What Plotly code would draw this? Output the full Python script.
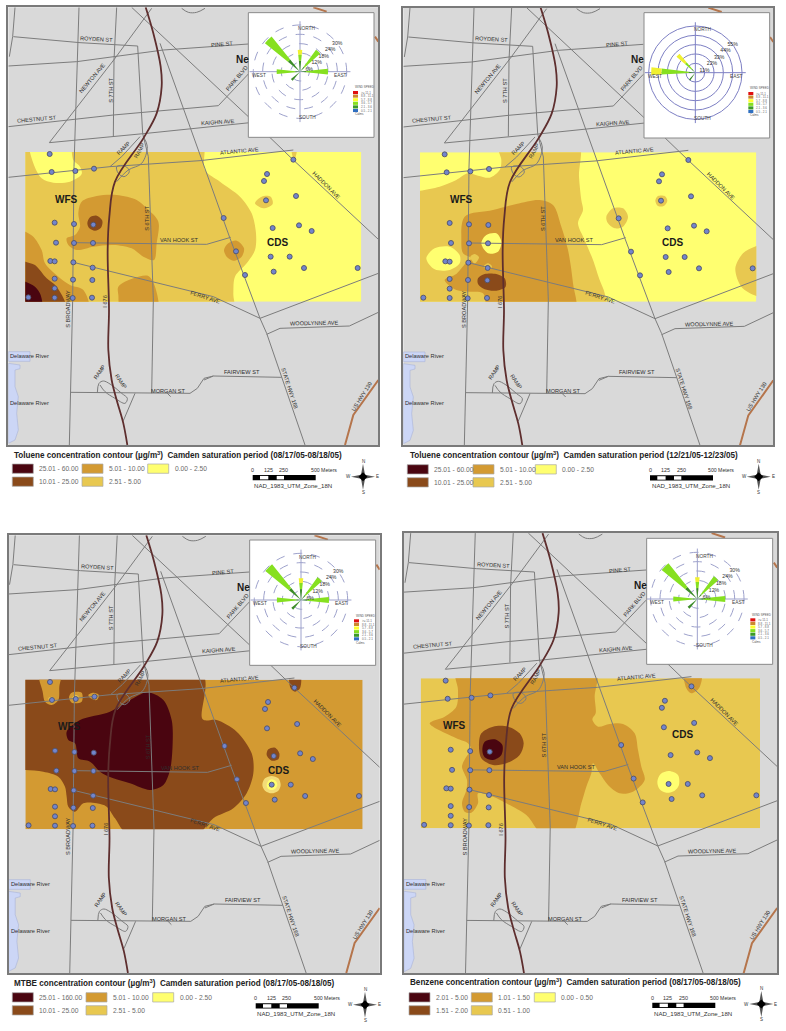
import plotly.graph_objects as go

W, H = 786, 1031
FONT = "Liberation Sans, Arial, sans-serif"
BAND = ["#4a0510", "#8a4a1a", "#d39a32", "#e8c850", "#ffff70"]
PALE = "#f3dc78"

# ---------- shared street map, in map units ----------
ROADS = [
    [(45,22),(38,110),(28,170)],
    [(40,110),(240,128),(413,138),(420,260),(428,400),(445,470),(460,900),(455,1180)],
    [(237,22),(232,180),(222,500),(218,900),(208,1335)],
    [(350,22),(342,180),(340,408)],
    [(25,198),(230,185),(490,150),(745,132)],
    [(455,25),(345,175),(148,428),(440,400),(750,368)],
    [(25,380),(340,345),(655,317),(745,222)],
    [(395,22),(745,350),(880,480),(1135,718)],
    [(480,130),(610,490),(690,715),(780,955),(800,1000),(915,1335)],
    [(25,532),(330,500),(600,482),(880,450)],
    [(222,728),(620,733),(692,712)],
    [(220,787),(640,890),(780,955),(1135,820)],
    [(800,1003),(840,985),(1048,978),(1135,937)],
    [(212,1177),(570,1180),(592,1165),(612,1135),(640,1128),(845,1132)],
    [(612,1140),(640,1128)],
    [(500,1178),(512,1190)],
    [(405,1180),(370,1262)],
    [(330,500),(365,470),(420,410)],
]
LOOPS = [
    [(292,1178),(297,1150),(310,1143),(330,1152),(365,1180),(382,1195),(375,1210),(345,1195),(315,1175),(300,1155)],
    [(350,500),(375,498),(388,515),(372,530),(355,520),(350,500)],
    [(350,545),(385,510),(425,490),(442,440),(430,410)],
    [(545,25),(565,37),(590,37),(615,25)],
]
HIGHWAY = [(437,22),(460,100),(482,200),(485,260),(470,340),(430,415),(345,545),(328,650),
           (323,750),(327,930),(325,1050),(335,1140),(350,1200),(370,1270),(382,1335)]
ARTERIALS = [[(1135,1140),(1060,1245),(1035,1335)], [(940,22),(980,35)], [(1125,110),(1135,125)]]
RIVER = [[(25,1055),(90,1055),(90,1084),(25,1084)],
         [(25,1090),(60,1095),(60,1106),(45,1110),(45,1160),(55,1190),(50,1240),(55,1290),(45,1320),(25,1330)]]
STATIONS = [(149,462),(155,516),(226,513),(282,506),(880,479),(801,522),(792,543),(888,588),(798,601),
            (164,668),(222,672),(280,674),(671,654),(818,684),(897,676),(935,693),(168,728),(222,729),
            (279,729),(708,754),(151,783),(164,784),(220,787),(812,770),(869,770),(278,803),(735,825),
            (821,815),(912,804),(1073,804),(164,836),(219,839),(277,840),(164,865),(85,892),(164,893),
            (218,894),(276,893)]
ROAD_LABELS = [
    ("ROYDEN ST",290,117,3),("PINE ST",667,132,-5),("NEWTON AVE",277,235,-50),("S 7TH ST",332,270,-90),
    ("PARK BLVD",710,233,-50),("CHESTNUT ST",112,357,-5),("KAIGHN AVE",655,367,-4),("RAMP",370,443,-45),
    ("RAMP",417,452,-62),("ATLANTIC AVE",717,452,-5),("HADDON AVE",978,556,45),("S 6TH ST",442,655,-90),
    ("VAN HOOK ST",538,720,0),("FERRY AVE",615,890,18),("S BROADWAY",205,925,-90),("I 676",315,905,-90),
    ("WOODLYNNE AVE",943,970,-1),("FAIRVIEW ST",726,1116,0),("MORGAN ST",505,1172,0),("RAMP",298,1115,-55),
    ("RAMP",362,1143,55),("STATE HWY 168",868,1165,72),("US HWY 130",1083,1190,-58),
]
WATER_LABELS = [("Delaware River",25,1068),("Delaware River",25,1209)]
SITES_STD = [("WFS",198,597),("CDS",833,726)]
SITES_MTBE = [("WFS",206,594),("CDS",833,726)]
SITES_BENZ = [("WFS",175,597),("CDS",853,622)]
PLACE_LABEL = ("Ne",727,177)

# ---------- contour polygons per panel: (band index, outline) ----------
CONTOUR_TOL_A = [
    (3,[(605,420),(615,510),(660,545),(720,590),(755,640),(768,700),(765,750),(740,790),(705,830),(700,880),(700,980),(20,980),(20,400),(300,400)]),
    (4,[(90,420),(100,490),(125,535),(160,548),(210,545),(245,522),(240,500),(220,480),(205,420)]),
    (3,[(875,440),(878,470),(882,478),(887,470),(890,440)]),
    (3,[(765,610),(785,590),(812,590),(818,612),(790,625)]),
    (2,[(235,640),(245,605),(290,588),(350,585),(410,600),(440,625),(475,665),(470,730),(462,780),(430,770),(395,745),(340,735),(280,740),(230,750),(205,735),(200,715),(225,705),(240,680)]),
    (2,[(672,750),(685,730),(710,722),(732,745),(725,770),(700,782),(680,770)]),
    (2,[(40,680),(76,695),(100,710),(125,750),(135,790),(175,830),(210,855),(250,870),(265,930),(40,940)]),
    (2,[(355,860),(400,835),(445,828),(465,860),(472,940),(365,940),(355,885)]),
    (1,[(262,670),(270,652),(290,647),(307,662),(303,683),(285,692),(268,685)]),
    (1,[(40,770),(76,785),(105,795),(140,835),(170,860),(198,930),(40,940)]),
    (0,[(40,835),(76,845),(105,860),(122,885),(124,940),(40,940)]),
]
CONTOUR_TOL_B = [
    (3,[(312,420),(325,480),(320,510),(290,533),(255,527),(225,520),(190,540),(140,560),(81,572),(40,575),(30,980),(640,980),(635,880),(620,840),(600,780),(575,720),(555,670),(570,630),(565,600),(558,530),(555,420)]),
    (4,[(100,775),(125,745),(170,740),(200,765),(200,790),(170,810),(125,808)]),
    (3,[(640,650),(660,625),(690,625),(705,650),(690,680),(665,685),(645,670)]),
    (3,[(787,602),(795,588),(815,588),(823,602),(812,618),(795,618)]),
    (3,[(1130,730),(1085,740),(1050,760),(1027,805),(1045,860),(1090,888),(1130,895)]),
    (2,[(205,720),(215,650),(300,630),(370,612),(440,600),(480,615),(505,680),(525,750),(540,850),(545,940),(290,940),(270,880),(230,875),(190,870),(155,840),(190,822),(218,790),(235,775),(210,760)]),
    (4,[(265,730),(280,705),(310,700),(325,725),(315,755),(285,760)]),
    (3,[(232,770),(245,762),(258,772),(245,790)]),
    (3,[(272,800),(285,790),(297,800),(285,812)]),
    (1,[(255,835),(275,822),(310,822),(335,835),(338,860),(310,872),(275,868),(255,852)]),
]
CONTOUR_MTBE = [
    (1,[(607,490),(608,628),(650,630),(710,665),(755,730),(760,790),(740,850),(700,895),(640,925),(590,975),(385,975),(345,925),(320,890),(290,880),(250,880),(225,905),(205,890),(200,860),(195,830),(175,800),(130,785),(76,780),(30,780),(30,480)]),
    (2,[(118,490),(128,545),(135,575),(155,585),(175,570),(178,530),(182,490)]),
    (2,[(207,562),(215,548),(245,548),(245,575),(215,578)]),
    (2,[(265,555),(280,548),(297,555),(290,570),(272,565)]),
    (3,[(217,563),(228,555),(238,563),(228,572)]),
    (3,[(275,556),(283,552),(290,557),(283,563)]),
    (3,[(145,565),(156,560),(165,570),(156,580)]),
    (1,[(870,490),(872,535),(885,545),(900,535),(900,490)]),
    (1,[(800,735),(805,718),(825,713),(838,730),(835,748),(815,752)]),
    (0,[(200,665),(240,630),(330,605),(400,565),(442,547),(490,570),(515,630),(518,700),(510,780),(490,825),(450,840),(390,820),(340,805),(300,785),(270,755),(235,745),(230,720),(225,700),(205,690)]),
]
HALO_MTBE = [
    ("pale",[(787,825),(795,805),(815,798),(835,805),(842,825),(835,842),(815,850),(795,842)]),
    (4,[(800,825),(806,812),(816,808),(828,814),(832,825),(826,836),(815,840),(804,836)]),
]
CONTOUR_BENZ = [
    (2,[(190,480),(195,540),(190,590),(155,620),(110,640),(190,685),(225,700),(235,720),(220,740),(207,770),(222,810),(220,840),(207,880),(215,905),(235,908),(255,880),(255,850),(300,860),(340,880),(400,915),(450,975),(535,975),(565,880),(580,830),(595,790),(600,760),(620,790),(645,825),(680,850),(720,845),(755,810),(745,770),(735,720),(725,670),(690,642),(650,642),(615,650),(598,628),(608,610),(605,560),(608,480)]),
    (2,[(875,490),(880,535),(895,550),(918,535),(925,490)]),
    (1,[(258,700),(265,670),(300,650),(345,650),(380,670),(392,700),(380,735),(340,760),(300,765),(265,745)]),
    (0,[(268,720),(275,695),(305,688),(328,705),(325,735),(300,750),(275,742)]),
    (4,[(793,815),(803,792),(828,783),(855,795),(858,825),(845,842),(820,848),(800,838)]),
]

# ---------- wind roses ----------
ROSE_DIRS = [0, 42, 90, 225, 270, 315]
ROSE_DARK_A = [7, 4, 4, 7.5, 3, 10]
ROSE_GREEN_A = [4, 13.5, 14, 0, 12, 19]
ROSE_YELLOW_A = [3, 0, 0, 0, 0, 0]
ROSE_DARK_C = [7, 4, 4, 8, 3, 10]
ROSE_GREEN_C = [4, 14, 14, 0, 12.5, 19.5]
ROSE_DIRS_B = [218, 272, 315]
ROSE_DARK_B = [11, 8, 6]
ROSE_GREEN_B = [0, 32, 10]
ROSE_YELLOW_B = [0, 12, 13]
RINGS_A = [6, 12, 18, 24, 30]
RINGS_B = [11, 22, 33, 44, 55]
RING_LABEL_THETA = [80, 63, 58, 54, 53]
ROSE_KEY = ["#e01010", "#cc8830", "#ffff30", "#86e020", "#3c9a28", "#2f6fc0"]
ROSE_KEY_LABELS = [">= 11.1", "8.8 - 11.1", "5.7 - 8.8", "3.6 - 5.7", "2.1 - 3.6", "0.5 - 2.1"]

# ---------- legend texts ----------
TITLES = [
    "Toluene concentration contour (µg/m<sup>3</sup>)  Camden saturation period (08/17/05-08/18/05)",
    "Toluene concentration contour (µg/m<sup>3</sup>)  Camden saturation period (12/21/05-12/23/05)",
    "MTBE concentration contour (µg/m<sup>3</sup>)  Camden saturation period (08/17/05-08/18/05)",
    "Benzene concentration contour (µg/m<sup>3</sup>)  Camden saturation period (08/17/05-08/18/05)",
]
LEGEND_TOL = ["25.01 - 60.00","10.01 - 25.00","5.01 - 10.00","2.51 - 5.00","0.00 - 2.50"]
LEGEND_MTBE = ["25.01 - 160.00","10.01 - 25.00","5.01 - 10.00","2.51 - 5.00","0.00 - 2.50"]
LEGEND_BENZ = ["2.01 - 5.00","1.51 - 2.00","1.01 - 1.50","0.51 - 1.00","0.00 - 0.50"]

PANELS = [
    dict(base=(0,0), sx=1, ox=0, sy=1, oy=0, rect=(76,1084,456,905), cont=CONTOUR_TOL_A, inset=(745,1122,38,412), rose=(900,215),
         dirs=ROSE_DIRS, bands=(ROSE_DARK_A,ROSE_GREEN_A,ROSE_YELLOW_A), rings=RINGS_A, width=12, dash="dash", labels=LEGEND_TOL, sites=SITES_STD,
         title=(12.3,454.8), cols=(12.3,82,147.7), rows=(464,477), scale=(252.7,475), compass=(363,476.7)),
    dict(base=(393,0), sx=1, ox=6, sy=1, oy=1, rect=(81,1090,457,905), cont=CONTOUR_TOL_B, inset=(753,1130,38,414), rose=(907,218),
         dirs=ROSE_DIRS_B, bands=(ROSE_DARK_B,ROSE_GREEN_B,ROSE_YELLOW_B), rings=RINGS_B, width=10, dash="solid", labels=LEGEND_TOL, sites=SITES_STD,
         title=(407.5,455), cols=(407.3,473,535.3), rows=(464.7,477.7), scale=(650,475.3), compass=(758.7,476.7)),
    dict(base=(0,510), sx=1.0032, ox=0.5, sy=1, oy=54, rect=(76,1088,509,958), cont=CONTOUR_MTBE+HALO_MTBE, inset=(749,1127,90,466), rose=(903,270),
         dirs=ROSE_DIRS, bands=(ROSE_DARK_C,ROSE_GREEN_C,ROSE_YELLOW_A), rings=RINGS_A, width=12, dash="dash", labels=LEGEND_MTBE, sites=SITES_MTBE,
         title=(12.3,982.7), cols=(12.3,86,152.7), rows=(992.7,1005.7), scale=(255.7,1003.3), compass=(365,1004.7)),
    dict(base=(393,510), sx=1.0087, ox=7.7, sy=1.006, oy=47.2, rect=(83,1101,505,955), cont=CONTOUR_BENZ, inset=(761,1139,85,463), rose=(913,267),
         dirs=ROSE_DIRS, bands=(ROSE_DARK_C,ROSE_GREEN_C,ROSE_YELLOW_A), rings=RINGS_A, width=12, dash="dash", labels=LEGEND_BENZ, sites=SITES_BENZ,
         title=(408,982.3), cols=(409,471.3,534.3), rows=(992.7,1005.7), scale=(652.3,1002.7), compass=(761.3,1004)),
]
MAP_X = (25, 1135)
MAP_Y = (1335, 22)
ROSE_RADIUS = 46.7
ROSE_PAD = 1.08   # radial range runs past the last ring so that ring is still drawn

fig = go.Figure()
shapes, anns = [], []

def xf(v): return v / W
def yf(v): return 1 - v / H
def xs(pts): return [p[0] for p in pts]
def ys(pts): return [p[1] for p in pts]
def closed(pts): return pts + [pts[0]]

layout = {}

def add_axes(n, xdom, ydom, xr, yr, **k):
    sfx = "" if n == 1 else str(n)
    layout["xaxis"+sfx] = dict(domain=xdom, range=xr, showgrid=False, zeroline=False, showticklabels=False, ticks="",
                               anchor="y"+sfx, showline=k.get("line",False), mirror=True, linecolor="#7a7a7a", linewidth=2)
    layout["yaxis"+sfx] = dict(domain=ydom, range=yr, showgrid=False, zeroline=False, showticklabels=False, ticks="",
                               anchor="x"+sfx, showline=k.get("line",False), mirror=True, linecolor="#7a7a7a", linewidth=2)
    return ("x"+sfx, "y"+sfx)

def poly(ax, pts, fill, line="rgba(0,0,0,0)", lw=0, spline=False):
    fig.add_trace(go.Scatter(x=xs(closed(pts)), y=ys(closed(pts)), mode="lines", fill="toself", fillcolor=fill,
                             line=dict(color=line, width=lw, shape="spline" if spline else "linear", smoothing=0.9),
                             xaxis=ax[0], yaxis=ax[1], hoverinfo="skip", showlegend=False))

def line(ax, pts, color, lw, spline=False):
    fig.add_trace(go.Scatter(x=xs(pts), y=ys(pts), mode="lines",
                             line=dict(color=color, width=lw, shape="spline" if spline else "linear"),
                             xaxis=ax[0], yaxis=ax[1], hoverinfo="skip", showlegend=False))

def text(x, y, s, size, color="#333333", angle=0, bold=False, xa="center", xr="x9", yr="y9"):
    anns.append(dict(x=x, y=y, xref=xr, yref=yr, text="<b>%s</b>" % s if bold else s, showarrow=False, textangle=angle,
                     xanchor=xa, yanchor="middle", font=dict(family=FONT, size=size, color=color)))

# axes: 1-4 contour windows, 5-8 street maps, 9 page furniture
map_axes, cont_axes = [], []
for i, p in enumerate(PANELS):
    bx, by = p["base"]
    l, r, t, b = p["rect"]
    cont_axes.append(add_axes(i+1, [xf(bx+l/3), xf(bx+r/3)], [yf(by+b/3), yf(by+t/3)], [l, r], [b, t]))
for i, p in enumerate(PANELS):
    bx, by = p["base"]
    x0 = bx + (p["ox"] + p["sx"]*MAP_X[0])/3
    x1 = bx + (p["ox"] + p["sx"]*MAP_X[1])/3
    y0 = by + (p["oy"] + p["sy"]*MAP_Y[1])/3
    y1 = by + (p["oy"] + p["sy"]*MAP_Y[0])/3
    map_axes.append(add_axes(i+5, [xf(x0), xf(x1)], [yf(y1), yf(y0)], list(MAP_X), list(MAP_Y), line=True))
    shapes.append(dict(type="rect", xref="paper", yref="paper", x0=xf(x0), x1=xf(x1), y0=yf(y1), y1=yf(y0),
                       fillcolor="#d9d9d9", line=dict(width=0), layer="below"))
page = add_axes(9, [0, 1], [0, 1], [0, W], [H, 0])

# contour panels
for i, p in enumerate(PANELS):
    l, r, t, b = p["rect"]
    base_band = 2 if i == 2 else (3 if i == 3 else 4)
    poly(cont_axes[i], [(l,t),(r,t),(r,b),(l,b)], BAND[base_band])
    for band, pts in p["cont"]:
        poly(cont_axes[i], pts, PALE if band == "pale" else BAND[band], spline=True)

# street maps
for i, p in enumerate(PANELS):
    ax = map_axes[i]
    for r_ in RIVER:
        poly(ax, r_, "#ccd6f6", line="#aab4d8", lw=0.6)
    for rd in ROADS:
        line(ax, rd, "#7c7c7c", 1)
    for lp in LOOPS:
        line(ax, lp, "#7c7c7c", 1, spline=True)
    for a in ARTERIALS:
        line(ax, a, "#b5754c", 2)
    line(ax, HIGHWAY, "#5e2e2e", 1.8, spline=True)
    fig.add_trace(go.Scatter(x=xs(STATIONS), y=ys(STATIONS), mode="markers",
                             marker=dict(size=5, color="#7285cc", line=dict(color="#50516a", width=0.9)),
                             xaxis=ax[0], yaxis=ax[1], hoverinfo="skip", showlegend=False))
    for s, x, y, ang in ROAD_LABELS:
        text(x, y, s, 5.6, "#2e2e2e", ang, xr=ax[0], yr=ax[1])
    for s, x, y in WATER_LABELS:
        text(x, y, s, 5.7, "#2e2e2e", xa="left", xr=ax[0], yr=ax[1])
    for s, x, y in p["sites"]:
        text(x, y, s, 10, "#1a1a1a", bold=True, xr=ax[0], yr=ax[1])
    text(PLACE_LABEL[1], PLACE_LABEL[2], PLACE_LABEL[0], 10, "#1a1a1a", bold=True, xr=ax[0], yr=ax[1])

# insets + furniture on page axes
ROSE_COLORS = ["#3c8c28", "#86e020", "#f0f030"]
for i, p in enumerate(PANELS):
    bx, by = p["base"]
    il, ir, it, ib = p["inset"]
    poly(page, [(bx+il/3,by+it/3),(bx+ir/3,by+it/3),(bx+ir/3,by+ib/3),(bx+il/3,by+ib/3)], "#ffffff", line="#8a8a8a", lw=1)
    cx, cy = bx + p["rose"][0]/3, by + p["rose"][1]/3
    pid = "polar" if i == 0 else "polar%d" % (i+1)
    gc = "#9ea2cc" if p["dash"] == "dash" else "#7e80c4"
    R = ROSE_RADIUS * ROSE_PAD
    layout[pid] = dict(domain=dict(x=[xf(cx-R), xf(cx+R)], y=[yf(cy+R), yf(cy-R)]),
                       bgcolor="rgba(0,0,0,0)", barmode="stack",
                       radialaxis=dict(range=[0, p["rings"][-1]*ROSE_PAD], tickvals=p["rings"], showticklabels=False, ticks="", showline=False,
                                       gridcolor=gc, griddash=p["dash"], gridwidth=0.8),
                       angularaxis=dict(direction="clockwise", rotation=90, tickvals=[0,90,180,270], showticklabels=False, ticks="",
                                        showline=False, gridcolor=gc, gridwidth=0.8))
    for vals, col in zip(p["bands"], ROSE_COLORS):
        fig.add_trace(go.Barpolar(theta=p["dirs"], r=vals, width=[p["width"]]*len(vals), marker=dict(color=col, line=dict(width=0)),
                                  subplot=pid, hoverinfo="skip", showlegend=False))
    fig.add_trace(go.Scatterpolar(theta=RING_LABEL_THETA, r=p["rings"], mode="text", text=["%d%%" % v for v in p["rings"]],
                                  textfont=dict(family=FONT, size=5.2, color="#333333"), subplot=pid, hoverinfo="skip", showlegend=False))
    text(cx+7.3, cy-43, "NORTH", 4.8, "#444444")
    text(cx+7.3, cy+46, "SOUTH", 4.8, "#444444")
    text(cx-40.7, cy+3.7, "WEST", 4.8, "#444444")
    text(cx+40.7, cy+3.7, "EAST", 4.8, "#444444")
    # wind key
    text(cx+53, cy+15.5, "WIND SPEED", 3, "#555555", xa="left")
    for k, c in enumerate(ROSE_KEY):
        y0 = cy + 19.3 + k*3.6
        poly(page, [(cx+53,y0),(cx+58,y0),(cx+58,y0+3.1),(cx+53,y0+3.1)], c)
        text(cx+59, y0+1.6, ROSE_KEY_LABELS[k], 3, "#666666", xa="left")
    text(cx+53, cy+42.8, "Calms", 3, "#555555", xa="left")

    # legend
    text(p["title"][0], p["title"][1], TITLES[i], 8.15, "#222222", bold=True, xa="left")
    slots = [(0,0),(0,1),(1,0),(1,1),(2,0)]
    for (c, r_), lab, col in zip(slots, p["labels"], BAND):
        x0 = p["cols"][c]; y0 = p["rows"][r_]
        poly(page, [(x0,y0),(x0+21,y0),(x0+21,y0+9.3),(x0,y0+9.3)], col, line="#a9a9a9", lw=0.7)
        text(x0+25, y0+4.8, lab, 6.7, "#6a6a6a", xa="left")
    # scale bar
    sx, sy = p["scale"]
    poly(page, [(sx,sy),(sx+63,sy),(sx+63,sy+5.2),(sx,sy+5.2)], "#000000")
    for a_, b_ in [(7.3,15.6),(24,31.3)]:
        poly(page, [(sx+a_,sy+0.9),(sx+b_,sy+0.9),(sx+b_,sy+4.4),(sx+a_,sy+4.4)], "#ffffff")
    for lab, dx in [("0",0),("125",15.5),("250",31)]:
        text(sx+dx, sy-5, lab, 5.4, "#333333")
    text(sx+71, sy-5, "500 Meters", 5.2, "#333333")
    text(sx-0.5, sy+10.3, "NAD_1983_UTM_Zone_18N", 6.1, "#333333", xa="left")
    # north arrow
    mx, my = p["compass"]
    poly(page, [(mx,my-13),(mx+2,my-2),(mx+12,my),(mx+2,my+2),(mx,my+13),(mx-2,my+2),(mx-12,my),(mx-2,my-2)], "#555555")
    poly(page, [(mx,my-4.5),(mx+4.5,my),(mx,my+4.5),(mx-4.5,my)], "#000000")
    text(mx, my-15.5, "N", 4.5, "#333333")
    text(mx, my+15.5, "S", 4.5, "#333333")
    text(mx+14.5, my, "E", 4.5, "#333333")
    text(mx-14.5, my, "W", 4.5, "#333333")

layout.update(width=W, height=H, margin=dict(l=0, r=0, t=0, b=0), autosize=False, paper_bgcolor="#ffffff",
              plot_bgcolor="rgba(0,0,0,0)", shapes=shapes, annotations=anns, showlegend=False,
              font=dict(family=FONT))
fig.update_layout(**layout)
fig.write_html("out.html", config=dict(displayModeBar=False, responsive=False),
               post_script="document.body.style.margin='0';document.body.style.overflow='hidden';")
